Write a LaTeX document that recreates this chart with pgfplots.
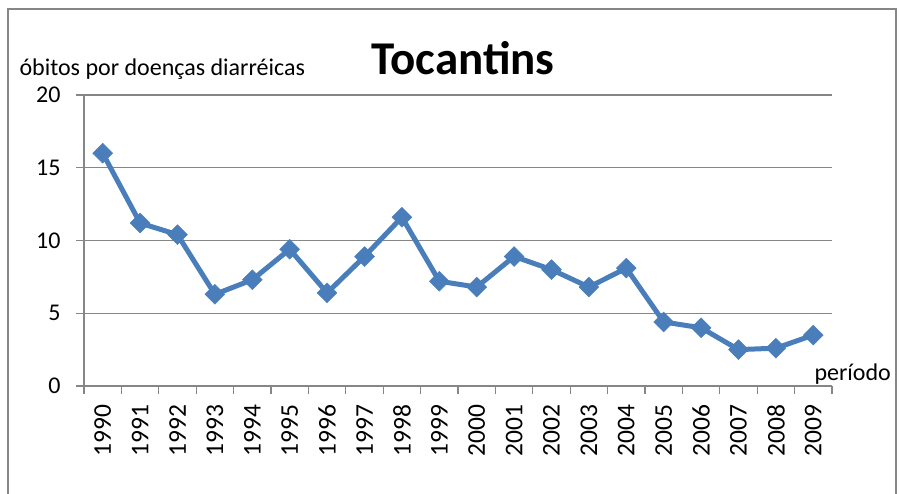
\documentclass[border=0pt]{standalone}
\usepackage{pgfplots}
\pgfplotsset{compat=1.18}
\usepackage{fontspec}
\setmainfont{Carlito}
\definecolor{serie}{RGB}{74,126,187}
\definecolor{grade}{RGB}{134,134,134}
\begin{document}
\begin{tikzpicture}[x=1pt,y=1pt]
\useasboundingbox (0,0) rectangle (899,493);
\draw[grade, line width=1.2pt] (8,-5) -- (8,484) -- (896,484) -- (896,-5);
\begin{axis}[
    at={(84pt,107pt)}, anchor=south west,
    scale only axis, width=748pt, height=291pt,
    xmin=0, xmax=20, ymin=0, ymax=20,
    xtick={0,...,20},
    xticklabels={1990,1991,1992,1993,1994,1995,1996,1997,1998,1999,2000,2001,2002,2003,2004,2005,2006,2007,2008,2009},
    x tick label as interval=true,
    ytick={0,5,10,15,20},
    ymajorgrids, major grid style={grade, line width=1.2pt},
    axis x line*=bottom, axis y line*=left,
    axis line style={grade, line width=1.2pt, -},
    tick style={grade, line width=1.2pt},
    tick align=outside, major tick length=8pt,
    x tick label style={rotate=90, anchor=east, font=\fontsize{25.5}{25.5}\selectfont, xshift=-7pt},
    y tick label style={font=\fontsize{24}{24}\selectfont, xshift=-12pt},
    /pgf/number format/assume math mode=true,
    clip=false,
]
\addplot[serie, line width=5pt, mark=square*, mark size=7pt, mark options={rotate=45, fill=serie, draw=serie, line width=0.5pt}]
coordinates {
(0.5,16.0) (1.5,11.2) (2.5,10.4) (3.5,6.3) (4.5,7.3) (5.5,9.4) (6.5,6.4) (7.5,8.9) (8.5,11.6) (9.5,7.2)
(10.5,6.8) (11.5,8.9) (12.5,8.0) (13.5,6.8) (14.5,8.1) (15.5,4.4) (16.5,4.0) (17.5,2.5) (18.5,2.6) (19.5,3.5)
};
\end{axis}
\node[anchor=base west, font=\fontsize{24}{24}\selectfont] at (16,417) {óbitos por doenças diarréicas};
\node[anchor=base, font=\fontsize{47}{47}\selectfont\bfseries] at (463,418) {Tocantins};
\node[anchor=base west, font=\fontsize{24}{24}\selectfont] at (811,113) {período};
\end{tikzpicture}
\end{document}
